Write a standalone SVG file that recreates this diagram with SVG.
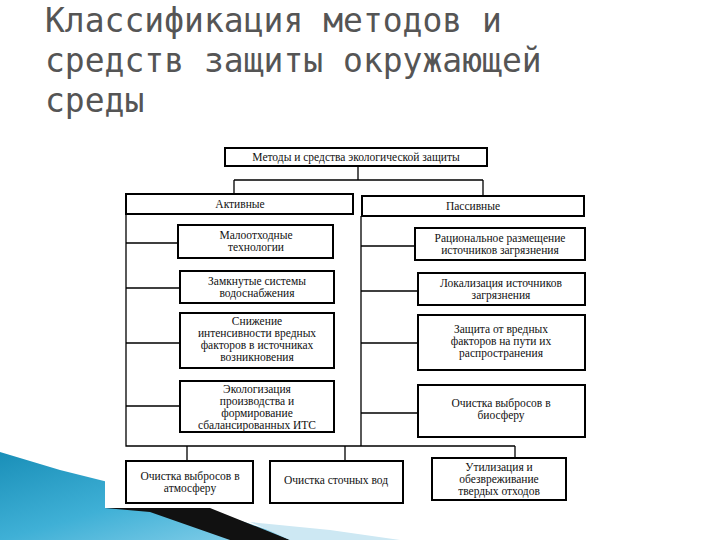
<svg xmlns="http://www.w3.org/2000/svg" width="720" height="540" viewBox="0 0 720 540">
<defs>
<linearGradient id="g" x1="0" y1="0" x2="1" y2="1">
<stop offset="0" stop-color="#1a8fb8"/><stop offset="0.5" stop-color="#3fb0d6"/><stop offset="1" stop-color="#8fd3ec"/>
</linearGradient>
<style>
.b{fill:#fff;stroke:#000;stroke-width:2}
.t{font-family:"Liberation Serif",serif;font-size:11.5px;text-anchor:middle;fill:#111}
.c{fill:none;stroke:#000;stroke-width:1.3}
.h{font-family:"DejaVu Sans Mono",monospace;font-size:33px;fill:#555}
</style>
</defs>
<rect width="720" height="540" fill="#fff"/>
<polygon points="0,452 60,470 160,495 300,540 0,540" fill="url(#g)"/>
<polygon points="105,478 190,500 290,540 230,540 150,512 105,508" fill="#111"/>
<polygon points="290,540 250,522 330,530 400,540" fill="#cde8f3"/>
<rect x="105" y="140" width="500" height="368" fill="#fff"/>
<text class="h" x="45" y="32">Классификация методов и</text>
<text class="h" x="45" y="72">средств защиты окружающей</text>
<text class="h" x="45" y="112">среды</text>
<g id="connectors" class="c">
<path d="M358 166V180M234 180H483M234 180V194M483 180V196"/>
<path d="M126 214V446H515M361 216V446"/>
<path d="M126 243H178M126 288H180M126 343H180M126 406H180"/>
<path d="M361 246H415M361 291H418M361 343H418M361 413H418"/>
<path d="M187 446V461M345 446V461M515 446V458"/>
</g>
<g id="top"><rect class="b" x="225" y="148" width="262" height="18"/><text class="t" x="356" y="161">Методы и средства экологической защиты</text></g>
<g id="active"><rect class="b" x="126" y="194" width="227" height="20"/><text class="t" x="240" y="208">Активные</text></g>
<g id="passive"><rect class="b" x="362" y="196" width="222" height="20"/><text class="t" x="473" y="210">Пассивные</text></g>
<g id="a1"><rect class="b" x="178" y="225" width="155" height="33"/><text class="t" x="256" y="239">Малоотходные</text><text class="t" x="256" y="251">технологии</text></g>
<g id="a2"><rect class="b" x="180" y="271" width="154" height="32"/><text class="t" x="257" y="285">Замкнутые системы</text><text class="t" x="257" y="297">водоснабжения</text></g>
<g id="a3"><rect class="b" x="180" y="313" width="154" height="55"/><text class="t" x="257" y="325">Снижение</text><text class="t" x="257" y="337">интенсивности вредных</text><text class="t" x="257" y="349">факторов в источниках</text><text class="t" x="257" y="361">возникновения</text></g>
<g id="a4"><rect class="b" x="180" y="381" width="154" height="51"/><text class="t" x="257" y="393">Экологизация</text><text class="t" x="257" y="405">производства и</text><text class="t" x="257" y="417">формирование</text><text class="t" x="257" y="429">сбалансированных ИТС</text></g>
<g id="p1"><rect class="b" x="415" y="228" width="170" height="32"/><text class="t" x="500" y="242">Рациональное размещение</text><text class="t" x="500" y="254">источников загрязнения</text></g>
<g id="p2"><rect class="b" x="418" y="273" width="167" height="32"/><text class="t" x="501" y="287">Локализация источников</text><text class="t" x="501" y="299">загрязнения</text></g>
<g id="p3"><rect class="b" x="418" y="315" width="167" height="55"/><text class="t" x="501" y="333">Защита от вредных</text><text class="t" x="501" y="345">факторов на пути их</text><text class="t" x="501" y="357">распространения</text></g>
<g id="p4"><rect class="b" x="418" y="385" width="167" height="52"/><text class="t" x="501" y="407">Очистка выбросов в</text><text class="t" x="501" y="419">биосферу</text></g>
<g id="b1"><rect class="b" x="126" y="461" width="127" height="42"/><text class="t" x="190" y="480">Очистка выбросов в</text><text class="t" x="190" y="492">атмосферу</text></g>
<g id="b2"><rect class="b" x="270" y="461" width="133" height="42"/><text class="t" x="336" y="484">Очистка сточных вод</text></g>
<g id="b3"><rect class="b" x="432" y="458" width="134" height="42"/><text class="t" x="499" y="471">Утилизация и</text><text class="t" x="499" y="483">обезвреживание</text><text class="t" x="499" y="495">твердых отходов</text></g>
</svg>
